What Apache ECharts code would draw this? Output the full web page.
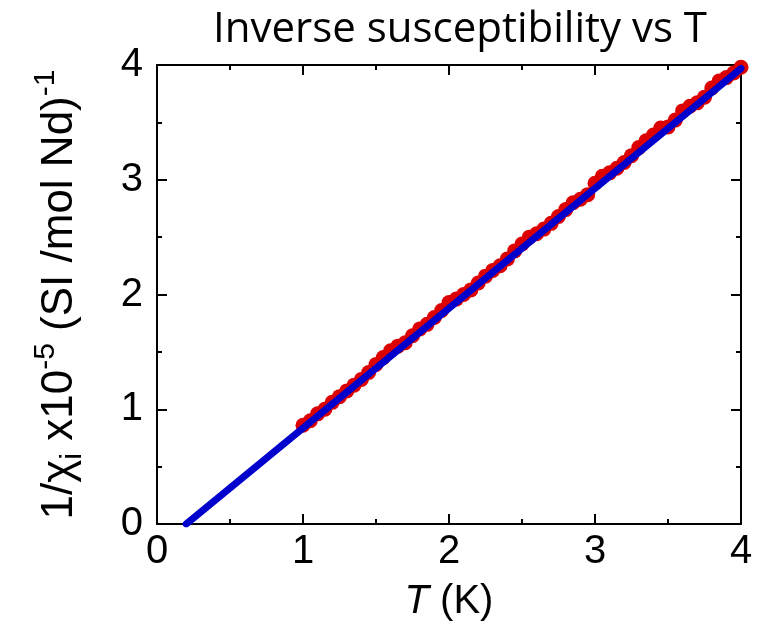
<!DOCTYPE html>
<html>
<head>
<meta charset="utf-8">
<script src="https://cdn.jsdelivr.net/npm/echarts@6/dist/echarts.min.js"></script>
<style>
html,body{margin:0;padding:0;background:#fff;}
#c{width:770px;height:627px;}
</style>
</head>
<body>
<div id="c"></div>
<script>
// Measured data: temperature T (K) and inverse susceptibility (x1e-5 SI/mol Nd)^-1
var temperature = [1.00,1.05,1.10,1.15,1.20,1.25,1.30,1.35,1.40,1.45,1.50,1.55,1.60,1.65,1.70,1.75,1.80,1.85,1.90,1.95,
  2.00,2.05,2.10,2.15,2.20,2.25,2.30,2.35,2.40,2.45,2.50,2.55,2.60,2.65,2.70,2.75,2.80,2.85,2.90,2.95,
  3.00,3.05,3.10,3.15,3.20,3.25,3.30,3.35,3.40,3.45,3.50,3.55,3.60,3.65,3.70,3.75,3.80,3.85,3.90,3.95,4.00];
var invChi = [0.86,0.90,0.96,1.00,1.06,1.11,1.16,1.21,1.26,1.32,1.39,1.45,1.51,1.55,1.58,1.64,1.70,1.74,1.80,1.86,
  1.93,1.96,2.00,2.04,2.10,2.16,2.21,2.25,2.31,2.38,2.44,2.50,2.53,2.57,2.62,2.68,2.74,2.80,2.83,2.87,
  2.97,3.03,3.06,3.10,3.15,3.21,3.28,3.34,3.39,3.45,3.46,3.52,3.60,3.64,3.67,3.72,3.80,3.86,3.89,3.93,3.98];
// Linear fit (Curie-Weiss) endpoints
var fitT = [0.2, 4.0];
var fitY = [0.0, 3.97];
var xTicks = [0,1,2,3,4];
var yTicks = [0,1,2,3,4];

var chart = echarts.init(document.getElementById('c'), null, {renderer:'canvas'});
var scatterData = temperature.map(function(t,i){return [t, invChi[i]];});
var fitData = fitT.map(function(t,i){return [t, fitY[i]];});

function axLine(){ return {show:true, onZero:false, lineStyle:{color:'#000', width:2}}; }
function axTick(){ return {show:true, inside:true, length:10, lineStyle:{color:'#000', width:2}}; }
function axMinor(){ return {show:true, splitNumber:2, length:5, lineStyle:{color:'#000', width:2}}; }
var FONT = 'Liberation Sans, Arial, sans-serif';

chart.setOption({
  animation:false,
  backgroundColor:'#fff',
  title:{
    text:'Inverse susceptibility vs T',
    left:455, top:4, textAlign:'center',
    textStyle:{fontFamily:'Open Sans, sans-serif', fontWeight:'normal', fontSize:42, color:'#000'}
  },
  grid:{left:157, right:29, top:65, bottom:100},
  xAxis:[{
    type:'value', min:0, max:4, interval:1, position:'bottom',
    axisLine:axLine(), axisTick:axTick(), minorTick:axMinor(), splitLine:{show:false}, minorSplitLine:{show:false},
    axisLabel:{margin:8, fontFamily:FONT, fontSize:40, color:'#000',
      formatter:function(v){return xTicks.indexOf(v)>=0?String(v):'';}},
    name:'{it|T} (K)', nameLocation:'middle', nameGap:58,
    nameTextStyle:{fontFamily:FONT, fontSize:40, color:'#000',
      rich:{it:{fontStyle:'italic', fontFamily:FONT, fontSize:40, color:'#000'}}}
  },{
    type:'value', min:0, max:4, interval:1, position:'top',
    axisLine:axLine(), axisTick:axTick(), minorTick:axMinor(), splitLine:{show:false},
    axisLabel:{show:false}
  }],
  yAxis:[{
    type:'value', min:0, max:4, interval:1, position:'left',
    axisLine:axLine(), axisTick:axTick(), minorTick:axMinor(), splitLine:{show:false},
    axisLabel:{margin:14, fontFamily:FONT, fontSize:40, color:'#000',
      formatter:function(v){return yTicks.indexOf(v)>=0?String(v):'';}},
    name:'{n|1/χ}{sub|i}{n| x10}{sup|-5}{n| (SI /mol Nd)}{sup|-1}',
    nameLocation:'middle', nameGap:68, nameRotate:90,
    nameTextStyle:{fontFamily:FONT, fontSize:44, color:'#000',
      rich:{
        n:{fontFamily:FONT, fontSize:44, color:'#000'},
        sub:{fontFamily:FONT, fontSize:30, color:'#000', padding:[26,0,0,0]},
        sup:{fontFamily:FONT, fontSize:30, color:'#000', padding:[0,0,28,0]}
      }}
  },{
    type:'value', min:0, max:4, interval:1, position:'right',
    axisLine:axLine(), axisTick:axTick(), minorTick:axMinor(), splitLine:{show:false},
    axisLabel:{show:false}
  }],
  series:[{
    type:'scatter', xAxisIndex:0, yAxisIndex:0,
    data:scatterData, symbol:'circle', symbolSize:15,
    itemStyle:{color:'#dd0000', opacity:1}, z:2
  },{
    type:'line', xAxisIndex:0, yAxisIndex:0,
    data:fitData, showSymbol:false, symbol:'none',
    lineStyle:{color:'#0000cc', width:7, cap:'round'}, z:3
  }]
});
</script>
</body>
</html>
